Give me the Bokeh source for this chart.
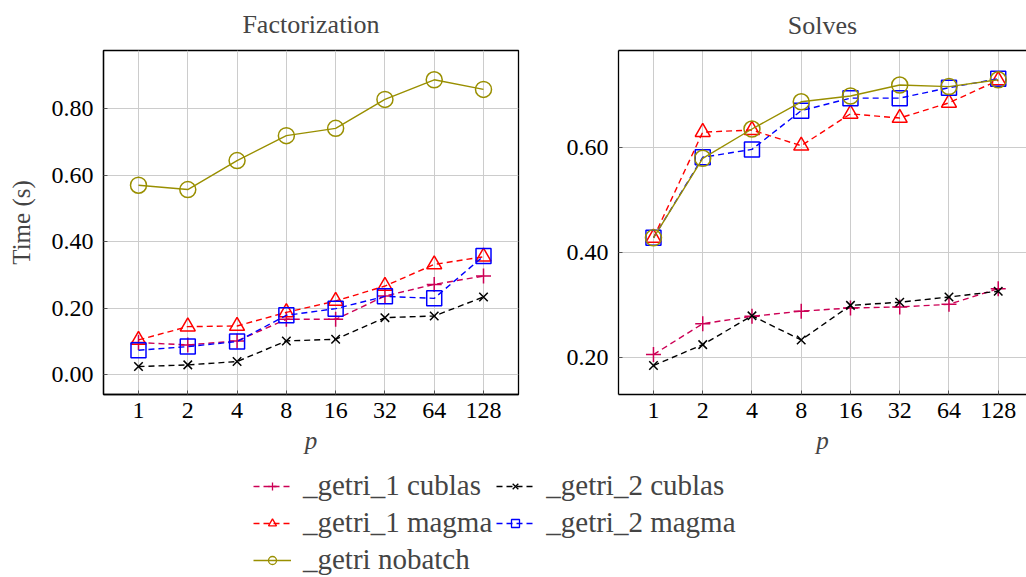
from bokeh.plotting import figure
from bokeh.models import (Range1d, LogAxis, FixedTicker, Legend, LegendItem,
                          NumeralTickFormatter)
from bokeh.layouts import column, row
from bokeh.embed import file_html
from bokeh.resources import INLINE

# ---------------- data ----------------
p_values = [1, 2, 4, 8, 16, 32, 64, 128]
p_labels = ["1", "2", "4", "8", "16", "32", "64", "128"]

fact_getri1_cublas = [0.097, 0.090, 0.102, 0.167, 0.167, 0.237, 0.272, 0.297]
fact_getri2_cublas = [0.025, 0.030, 0.040, 0.102, 0.107, 0.172, 0.177, 0.234]
fact_getri1_magma = [0.105, 0.145, 0.147, 0.188, 0.222, 0.267, 0.332, 0.355]
fact_getri2_magma = [0.074, 0.085, 0.100, 0.179, 0.199, 0.236, 0.230, 0.357]
fact_getri_nobatch = [0.570, 0.557, 0.644, 0.719, 0.741, 0.828, 0.887, 0.858]

solve_getri1_cublas = [0.205, 0.264, 0.278, 0.288, 0.294, 0.296, 0.301, 0.331]
solve_getri2_cublas = [0.184, 0.224, 0.279, 0.233, 0.299, 0.305, 0.315, 0.326]
solve_getri1_magma = [0.428, 0.630, 0.634, 0.604, 0.665, 0.657, 0.686, 0.729]
solve_getri2_magma = [0.428, 0.582, 0.597, 0.671, 0.695, 0.695, 0.715, 0.732]
solve_getri_nobatch = [0.428, 0.580, 0.636, 0.688, 0.699, 0.720, 0.717, 0.730]

series_labels = ["_getri_1 cublas", "_getri_2 cublas", "_getri_1 magma",
                 "_getri_2 magma", "_getri nobatch"]
fact_series = [fact_getri1_cublas, fact_getri2_cublas, fact_getri1_magma,
               fact_getri2_magma, fact_getri_nobatch]
solve_series = [solve_getri1_cublas, solve_getri2_cublas, solve_getri1_magma,
                solve_getri2_magma, solve_getri_nobatch]

fact_yticks = [0.0, 0.2, 0.4, 0.6, 0.8]
solve_yticks = [0.2, 0.4, 0.6]

# ---------------- styles ----------------
colors = ["#CC0055", "#000000", "#FF0000", "#0000FF", "#998F00"]
markers = ["cross", "x", "triangle", "square", "circle"]
msizes = [15, 12, 15, 15, 16]
dashes = ["6 4", "6 4", "6 4", "6 4", "solid"]

FONT = "Liberation Serif"
FS = "24px"


def style_axis(ax):
    ax.axis_line_color = "black"
    ax.axis_line_width = 1.3
    ax.major_tick_in = 4
    ax.major_tick_out = 0
    ax.minor_tick_in = 0
    ax.minor_tick_out = 0
    ax.major_tick_line_color = "#555555"
    ax.major_label_text_font = FONT
    ax.major_label_text_font_size = FS
    ax.major_label_text_color = "black"
    ax.axis_label_text_font = FONT
    ax.axis_label_text_font_size = "25px"
    ax.axis_label_text_font_style = "normal"


def make_panel(title, width, ylo, yhi, yticks, xhi_exp, mbl, mbr, data, ylabel, outline):
    p = figure(width=width, height=460, x_axis_type="log",
               x_range=Range1d(2 ** -0.71, 2 ** xhi_exp), y_range=Range1d(ylo, yhi),
               output_backend="svg", toolbar_location=None,
               min_border_left=mbl, min_border_right=mbr,
               min_border_top=50, min_border_bottom=66)
    p.title.text = title
    p.title.align = "center"
    p.title.vertical_align = "top"
    p.title.text_font = FONT
    p.title.text_font_size = "26px"
    p.title.text_font_style = "normal"
    p.title.standoff = 19 if outline else 18
    p.outline_line_color = "black" if outline else None
    p.outline_line_width = 1.3

    p.xaxis.ticker = FixedTicker(ticks=p_values)
    p.xaxis.major_label_overrides = {v: l for v, l in zip(p_values, p_labels)}
    p.yaxis.ticker = FixedTicker(ticks=yticks)
    p.yaxis.formatter = NumeralTickFormatter(format="0.00")
    for ax in p.xaxis:
        style_axis(ax)
        ax.axis_label = "p"
        ax.axis_label_text_font_style = "italic"
        ax.major_label_standoff = 8
        ax.axis_label_standoff = 6
    for ax in p.yaxis:
        style_axis(ax)
        ax.major_label_standoff = 10
        if ylabel:
            ax.axis_label = ylabel
            ax.axis_label_standoff = 14

    if not outline:
        # top border of a frame that runs on past the page's right edge
        top = LogAxis(ticker=FixedTicker(ticks=[]))
        style_axis(top)
        top.major_label_standoff = 0
        p.add_layout(top, "above")

    p.xgrid.grid_line_color = "#cccccc"
    p.ygrid.grid_line_color = "#cccccc"
    p.xgrid.grid_line_width = 1
    p.ygrid.grid_line_width = 1

    for vals, c, m, s, d in zip(data, colors, markers, msizes, dashes):
        p.line(p_values, vals, line_color=c, line_width=1.4, line_dash=d)
        p.scatter(p_values, vals, marker=m, size=s, line_color=c, line_width=1.5,
                  fill_color=None)
    return p


p1 = make_panel("Factorization", 560, -0.059, 0.975, fact_yticks, 7.71, 103, 42,
                fact_series, "Time (s)", True)
p2 = make_panel("Solves", 466, 0.1287, 0.786, solve_yticks, 7.574, 58, 0,
                solve_series, None, False)

# ---------------- legend panel ----------------
leg = figure(width=1026, height=117, x_range=Range1d(-3, -2), y_range=Range1d(-3, -2),
             output_backend="svg", toolbar_location=None, min_border=0,
             x_axis_location=None, y_axis_location=None, outline_line_color=None)
leg.grid.visible = False
items = []
for lab, vals, c, m, s, d in zip(series_labels, fact_series, colors, markers, msizes, dashes):
    lr = leg.line(p_values, vals, line_color=c, line_width=1.4, line_dash=d)
    sr = leg.scatter(p_values, vals, marker=m, size=s * 0.7, line_color=c, line_width=1.3,
                     fill_color=None)
    items.append(LegendItem(label=lab, renderers=[lr, sr]))

legend = Legend(items=items, location=(253, 1), orientation="horizontal", ncols=2,
                label_text_font=FONT, label_text_font_size="29px",
                glyph_width=38, glyph_height=20, label_standoff=12,
                label_width=186, label_height=32, spacing=4, padding=0, margin=0,
                border_line_color=None, background_fill_alpha=0)
leg.add_layout(legend, "center")

layout = column(row(p1, p2), leg)
open("out.html", "w").write(file_html(layout, INLINE))
